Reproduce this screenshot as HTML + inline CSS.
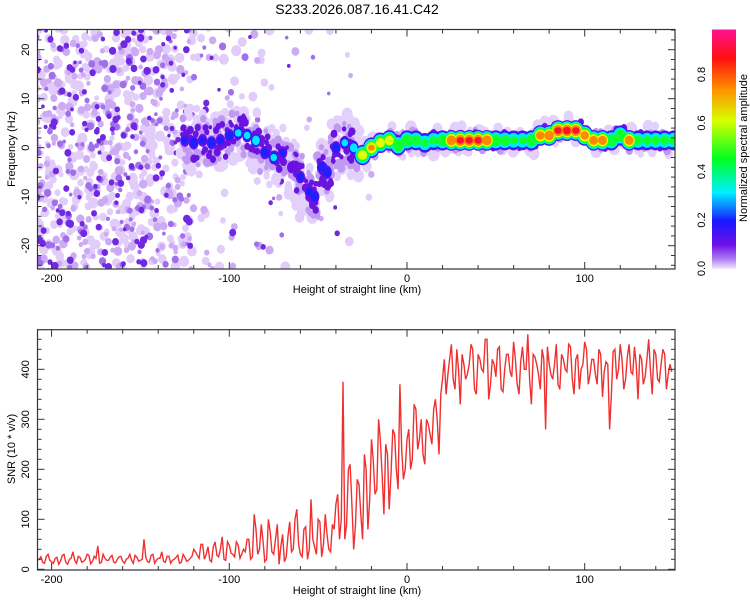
<!DOCTYPE html>
<html><head><meta charset="utf-8"><style>
body{margin:0;background:#fff;}
svg text{font-family:"Liberation Sans",sans-serif;fill:#000;}
</style></head><body>
<svg id="c" width="750" height="600" xmlns="http://www.w3.org/2000/svg">
<defs>
<linearGradient id="cbg" x1="0" y1="1" x2="0" y2="0">
<stop offset="0" stop-color="#f4ecff"/><stop offset="0.04" stop-color="#b080f0"/><stop offset="0.1" stop-color="#7010e8"/>
<stop offset="0.2" stop-color="#1818ff"/><stop offset="0.32" stop-color="#00f0ff"/><stop offset="0.46" stop-color="#00ff20"/>
<stop offset="0.62" stop-color="#d8ff00"/><stop offset="0.75" stop-color="#ff9000"/><stop offset="0.88" stop-color="#ff1010"/>
<stop offset="1" stop-color="#ff1090"/></linearGradient>
<clipPath id="clipTop"><rect x="38" y="30" width="637" height="239"/></clipPath>
<clipPath id="clipBot"><rect x="38" y="330" width="637" height="240"/></clipPath>
</defs>
<text x="357" y="14" font-size="14" text-anchor="middle">S233.2026.087.16.41.C42</text>
<g id="heat" clip-path="url(#clipTop)"></g>
<g id="snr" clip-path="url(#clipBot)"></g>
<g id="axes"></g>
<rect x="712" y="29.5" width="24" height="239.5" fill="url(#cbg)"/>
<text transform="translate(747,148) rotate(-90)" font-size="11" text-anchor="middle">Normalized spectral amplitude</text>
</svg>
<script>
// ---- data ----
const ridgeKm   = [-125,-120,-115,-110,-105,-100,-95,-90,-85,-80,-75,-70,-65,-60,-55,-52,-48,-45,-40,-35,-30,-25,-20,-15,-10,-5,0,5,10,15,20,25,30,35,40,45,50,55,60,65,70,75,80,85,90,95,100,105,110,115,120,125,130,135,140,145,150];
const ridgeFreq = [1.5,1,1.5,1,1.5,2.5,3,2.5,1.5,-1,-2,-1,-4,-6,-9,-10,-4,-5,0,1,0,-1.5,0,1,1.5,0.5,1.5,1.5,1,1.5,1.5,1.5,1.5,1.5,1.5,1.5,1.5,1.5,1.5,1.5,1.5,2.5,2.5,3.5,3.5,3.5,2.5,1.5,1.5,1.5,2.5,1.5,1.5,1.5,1.5,1.5,1.5];
const ridgeAmp  = [0.25,0.3,0.25,0.3,0.25,0.3,0.35,0.35,0.42,0.3,0.35,0.25,0.2,0.25,0.25,0.3,0.3,0.3,0.3,0.35,0.4,0.7,0.75,0.7,0.7,0.6,0.6,0.55,0.5,0.5,0.6,0.85,0.9,0.9,0.9,0.85,0.6,0.55,0.5,0.5,0.6,0.8,0.85,0.9,0.92,0.9,0.8,0.82,0.82,0.6,0.6,0.82,0.52,0.52,0.52,0.52,0.52];
const noiseBinKm  = [-210,-200,-190,-180,-170,-160,-150,-140,-130,-120,-110,-100,-90,-80,-70,-60,-50,-40,-30,-20];
const noiseDensity= [1,1,1,1,1,1,1,0.9,0.6,0.2,0.15,0.1,0.1,0.1,0.08,0.07,0.05,0.04,0.02,0.01];
const snrStart = -208;
const snrEven = [18,25,12,30,15,22,10,28,14,20,35,12,24,16,30,11,26,47,14,22,18,28,13,25,16,20,30,12,24,18,60,15,28,12,22,35,14,26,18,24,12,30,16,22,40,
28,50,20,45,15,55,25,65,18,48,30,55,22,40,60,
20,110,30,90,15,100,35,60,10,70,25,95,40,120,30,80,20,140,45,100,25,110,40,90,130,
60,375,90,210,40,180,110,230,80,260,
150,300,190,250,120,280,200,370,180,260,
200,330,240,300,210,290,250,340,230,380,
350,420,380,440,330,410,390,450,360,430,
400,460,340,420,385,445,355,430,395,455,
370,415,400,470,330,425,390,440,280,410,
380,450,360,420,395,445,350,430,400,455,
370,420,390,440,345,415,280,435,380,450,
360,425,395,445,340,420,385,460,350,430,
375,440,360,410,395];
const snrOdd = [20,14,26,18,12,24,16,30,10,22,18,26,14,20,28,16,22,12,30,18,24,14,20,26,12,22,18,28,16,20,24,14,30,18,22,16,26,12,20,28,14,24,18,26,
35,22,50,30,18,45,28,40,20,55,32,25,48,30,35,
60,25,80,40,55,20,75,30,90,45,15,65,35,100,50,25,85,40,60,30,95,50,70,35,80,
150,100,60,200,130,90,170,60,200,140,
220,160,260,110,230,190,270,160,240,200,
280,220,320,260,230,300,270,320,300,350,
420,390,450,360,400,430,380,410,440,350,
420,395,460,370,410,440,360,400,430,385,
420,350,445,400,380,430,410,360,420,445,
390,410,370,430,400,450,380,420,360,410,
440,390,420,370,430,395,410,350,440,400,
420,380,450,390,410,430,370,420,400,440,
380,410,430,390];
const xTicks = [-200,-100,0,100];
const fTicks = [-20,-10,0,10,20];
const snrTicks = [0,100,200,300,400];
const cbTicks = ["0.0","0.2","0.4","0.6","0.8"];

// ---- scales ----
const NS='http://www.w3.org/2000/svg';
const xS = km => 407 + km*1.777;
const fS = f => 147.7 - f*4.9;
const sS = v => 569.3 - v*0.5;
function mk(tag, attrs, parent){const e=document.createElementNS(NS,tag);for(const k in attrs)e.setAttribute(k,attrs[k]);parent.appendChild(e);return e;}
const heat=document.getElementById('heat'), axes=document.getElementById('axes'), snr=document.getElementById('snr');

// background speckle texture (deterministic hash)
function h(n){let x=Math.sin(n*12.9898+78.233)*43758.5453;return x-Math.floor(x);}
const speckCols=['#e2cdfa','#cdaaf4','#a070ec','#7028e2'];
const speckR=[3.6,3,2.6,2.6];
for(let layer=0;layer<4;layer++){
  let idx=layer*100000;
  for(let b=0;b<noiseBinKm.length;b++){
    const n=Math.round(noiseDensity[b]*[45,28,16,16][layer]);
    for(let k=0;k<n;k++){idx++;
      const km=noiseBinKm[b]+h(idx)*10, f=-26+h(idx+5000)*52;
      const r=speckR[layer]*(0.6+h(idx+7000)*0.7);
      const e=mk('ellipse',{cx:xS(km),cy:fS(f),rx:r*1.1,ry:r*1.2,fill:speckCols[layer]},heat);
      
      
    }
  }
}
// lavender / purple cloud around weak ridge
let cid=500000;
[['#e4d0fc',12,6,5],['#c09af2',9,4.5,3.5],['#6a14e0',6,3.5,3]].forEach(([col,cnt,spreadF,r])=>{
  ridgeKm.forEach((km,i)=>{
    const a=ridgeAmp[i];
    const weak=a<0.5;
    const n=weak?cnt:Math.round(cnt*0.3);
    for(let k=0;k<n;k++){cid++;
      const dk=(h(cid)-0.5)*6, df=(h(cid+333)-0.5)*2*spreadF*(weak?1:0.5);
      const rr=r*(0.6+h(cid+777)*0.6);
      const e=mk('ellipse',{cx:xS(km+dk),cy:fS(ridgeFreq[i]+df),rx:rr,ry:rr*1.2,fill:col},heat);
      
      
    }
  });
});
// ridge in layers
const levels=[0.1,0.2,0.3,0.45,0.6,0.72,0.85];
const lcols=['#6a10e4','#2020ff','#00e8ff','#10ff30','#e0ff00','#ff8800','#ff1030'];
levels.forEach((L,li)=>{
  ridgeKm.forEach((km,i)=>{
    const a=ridgeAmp[i]; if(a<=L)return;
    const s=Math.sqrt(1-L/a);
    const strong=a>=0.45;
    const rx=(strong?7:3.5)*s+2, ry=(strong?10:7)*s+1;
    const e=mk('ellipse',{cx:xS(km),cy:fS(ridgeFreq[i]),rx:rx,ry:ry,fill:lcols[li]},heat);
    
    
  });
});
// SNR line
const snrValues=[];
for(let i=0;i<snrEven.length;i++){snrValues.push(snrEven[i]); if(i<snrOdd.length) snrValues.push(snrOdd[i]);}
let d='';
snrValues.forEach((v,i)=>{d+=(i?'L':'M')+xS(snrStart+i).toFixed(1)+','+sS(v).toFixed(1);});
const pl=mk('path',{d:d,fill:'none',stroke:'#f03030','stroke-width':1.4},snr);



// axes
function frame(y0,y1,name){
  const r=mk('rect',{x:37.5,y:y0,width:637.5,height:y1-y0,fill:'none',stroke:'#333','stroke-width':1.2},axes);
  
  
  for(let km=-200;km<=150;km+=20){
    const x=xS(km), L=(km%100===0)?7:4;
    mk('line',{x1:x,x2:x,y1:y1,y2:y1-L,stroke:'#333'},axes);
    mk('line',{x1:x,x2:x,y1:y0,y2:y0+L,stroke:'#333'},axes);
  }
  xTicks.forEach(t=>{const e=mk('text',{x:xS(t),y:y1+13,'font-size':11,'text-anchor':'middle'},axes);e.textContent=t;
    });
  const xl=mk('text',{x:357,y:y1+24,'font-size':11,'text-anchor':'middle'},axes);xl.textContent='Height of straight line (km)';
  
}
frame(29.5,269,'top-plot-frame');
frame(329.7,570,'bottom-plot-frame');
for(let f=-24;f<=24;f+=2){const y=fS(f),L=f%10===0?7:4;
  mk('line',{x1:37.5,x2:37.5+L,y1:y,y2:y,stroke:'#333'},axes);mk('line',{x1:675,x2:675-L,y1:y,y2:y,stroke:'#333'},axes);}
fTicks.forEach(t=>{const e=mk('text',{transform:`translate(29,${fS(t)}) rotate(-90)`,'font-size':11,'text-anchor':'middle'},axes);e.textContent=t;
  });
const yt=mk('text',{transform:'translate(15,149) rotate(-90)','font-size':11,'text-anchor':'middle'},axes);yt.textContent='Frequency (Hz)';

for(let v=0;v<=460;v+=20){const y=sS(v),L=v%100===0?7:4;
  mk('line',{x1:37.5,x2:37.5+L,y1:y,y2:y,stroke:'#333'},axes);mk('line',{x1:675,x2:675-L,y1:y,y2:y,stroke:'#333'},axes);}
snrTicks.forEach(t=>{const e=mk('text',{transform:`translate(29,${sS(t)}) rotate(-90)`,'font-size':11,'text-anchor':'middle'},axes);e.textContent=t;
  });
const st=mk('text',{transform:'translate(15,449) rotate(-90)','font-size':11,'text-anchor':'middle'},axes);st.textContent='SNR (10 * v/v)';

cbTicks.forEach(t=>{const y=268.5-parseFloat(t)*242.5;
  const e=mk('text',{transform:`translate(705,${y}) rotate(-90)`,'font-size':11,'text-anchor':'middle'},axes);e.textContent=t;
  });
</script>
</body></html>
